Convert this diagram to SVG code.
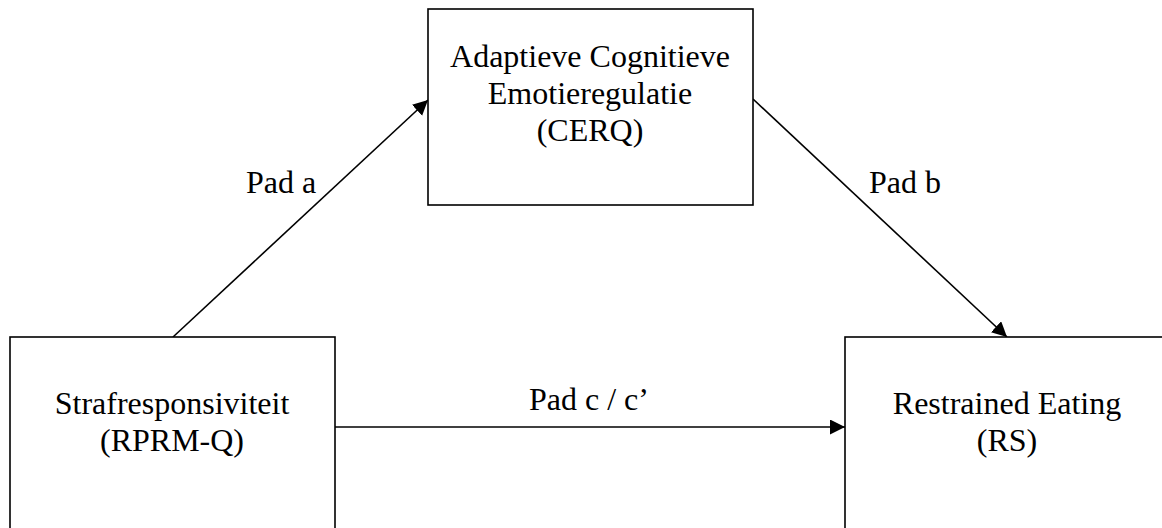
<svg xmlns="http://www.w3.org/2000/svg" width="1162" height="528" viewBox="0 0 1162 528">
  <style>
    .box { fill: #ffffff; stroke: #000000; stroke-width: 1.6; }
    .lbl { font-family: "Liberation Serif", "Times New Roman", serif; font-size: 32px; fill: #000000; text-anchor: middle; }
    .edge { fill: none; stroke: #000000; stroke-width: 1.6; marker-end: url(#arrow); }
  </style>
  <defs>
    <marker id="arrow" markerUnits="userSpaceOnUse" markerWidth="16" markerHeight="16" refX="15" refY="7.5" orient="auto">
      <path d="M0,0 L15,7.5 L0,15 z" fill="#000000"/>
    </marker>
  </defs>
  <rect width="1162" height="528" fill="#ffffff"/>

  <g id="connectors">
    <line class="edge" x1="173" y1="337" x2="428" y2="100"/>
    <line class="edge" x1="753" y1="99" x2="1007" y2="337"/>
    <line class="edge" x1="335" y1="427" x2="845" y2="427"/>
    <text class="lbl" x="281" y="193">Pad a</text>
    <text class="lbl" x="905" y="193">Pad b</text>
    <text class="lbl" x="589" y="410">Pad c / c’</text>
  </g>

  <g id="node-cerq">
    <rect class="box" x="428" y="9" width="325" height="196"/>
    <text class="lbl" x="590" y="67">Adaptieve Cognitieve</text>
    <text class="lbl" x="590" y="104">Emotieregulatie</text>
    <text class="lbl" x="590" y="141">(CERQ)</text>
  </g>

  <g id="node-rprmq">
    <rect class="box" x="10" y="337" width="325" height="196"/>
    <text class="lbl" x="172" y="414">Strafresponsiviteit</text>
    <text class="lbl" x="172" y="451">(RPRM-Q)</text>
  </g>

  <g id="node-rs">
    <rect class="box" x="845" y="337" width="325" height="196"/>
    <text class="lbl" x="1007" y="414">Restrained Eating</text>
    <text class="lbl" x="1007" y="451">(RS)</text>
  </g>
</svg>
